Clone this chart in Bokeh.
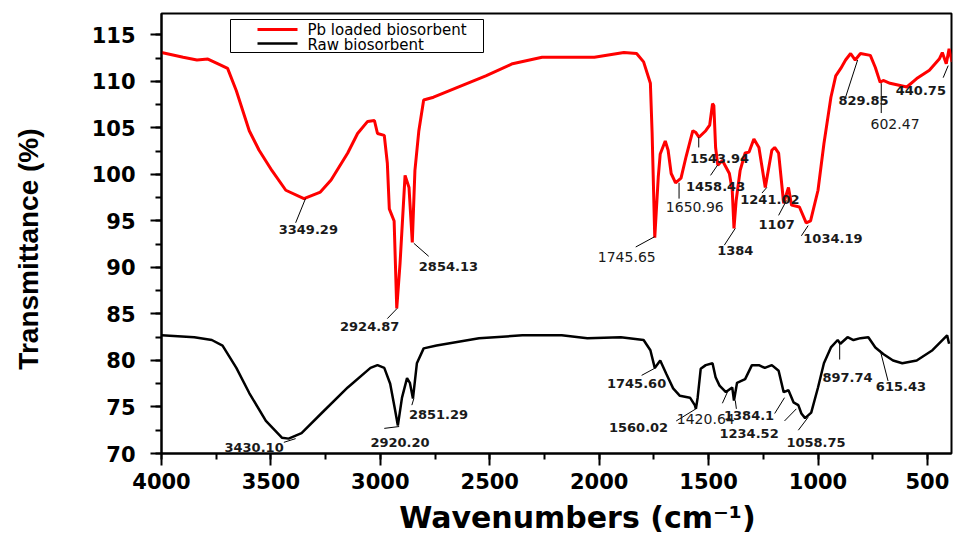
import math
from bokeh.plotting import figure
from bokeh.models import Range1d, SingleIntervalTicker, ColumnDataSource
from bokeh.core.properties import value
from bokeh.embed import file_html
from bokeh.resources import INLINE

# ---------------- data ----------------
red_wn = [4000, 3901, 3838, 3788, 3734, 3698, 3658, 3599, 3554, 3495, 3432, 3349, 3274, 3225,
          3149, 3104, 3058, 3027, 3013, 2982, 2968, 2959, 2937, 2925, 2910, 2887, 2869, 2854,
          2842, 2824, 2802, 2757, 2622, 2518, 2396, 2261, 2022, 1887, 1829, 1797, 1766, 1758,
          1746, 1730, 1721, 1698, 1685, 1671, 1651, 1626, 1603, 1572, 1558, 1544, 1513, 1495,
          1482, 1476, 1468, 1458, 1437, 1405, 1392, 1384, 1374, 1356, 1333, 1315, 1293, 1270,
          1241, 1211, 1198, 1180, 1157, 1135, 1121, 1085, 1054, 1034, 1000, 973, 941, 919,
          896, 874, 851, 830, 806, 761, 738, 716, 702, 671, 594, 549, 491, 446, 432, 414, 401, 387]
red_t = [113.1, 112.6, 112.3, 112.4, 111.8, 111.4, 109.0, 104.7, 102.6, 100.4, 98.3, 97.4, 98.1, 99.4,
         102.3, 104.4, 105.7, 105.8, 104.4, 104.2, 101.2, 96.3, 95.0, 85.6, 90.4, 99.9, 98.6, 92.7,
         100.4, 104.7, 108.0, 108.3, 109.6, 110.6, 111.9, 112.6, 112.6, 113.1, 113.0, 112.1, 109.8, 104.4,
         93.2, 99.7, 102.2, 103.6, 102.6, 100.1, 99.1, 99.6, 101.9, 104.7, 104.5, 104.0, 104.7, 105.3,
         107.6, 107.4, 102.9, 101.0, 101.5, 100.1, 98.3, 94.2, 97.2, 100.4, 102.3, 102.4, 103.8, 102.9,
         98.6, 102.6, 102.9, 102.3, 96.9, 98.6, 96.7, 96.5, 94.8, 95.0, 98.3, 103.3, 108.3, 110.6,
         111.4, 112.3, 113.0, 112.3, 113.0, 112.8, 111.5, 109.9, 110.1, 109.8, 109.4, 110.3, 111.2, 112.4,
         113.1, 111.9, 113.5, 112.1]

raw_wn = [4000, 3850, 3770, 3721, 3658, 3599, 3523, 3450, 3419, 3360, 3270, 3149, 3045, 3013, 2982,
          2955, 2932, 2920, 2901, 2878, 2865, 2851, 2833, 2802, 2743, 2549, 2351, 2171, 2054, 1901,
          1797, 1766, 1746, 1721, 1694, 1662, 1631, 1585, 1563, 1558, 1550, 1536, 1513, 1482, 1468,
          1450, 1421, 1392, 1384, 1370, 1333, 1302, 1270, 1243, 1211, 1180, 1157, 1135, 1112, 1090,
          1076, 1059, 1031, 1000, 973, 941, 910, 898, 865, 838, 806, 770, 738, 702, 657, 615, 549,
          477, 410, 401]
raw_t = [82.7, 82.5, 82.2, 81.6, 79.2, 76.5, 73.5, 71.7, 71.6, 72.2, 74.3, 77.1, 79.2, 79.5, 79.2,
         77.5, 74.6, 73.0, 76.0, 78.1, 77.6, 75.9, 79.7, 81.3, 81.6, 82.4, 82.7, 82.7, 82.4, 82.5,
         82.2, 81.1, 79.2, 80.0, 78.6, 77.0, 76.2, 76.0, 75.2, 74.8, 76.0, 79.1, 79.5, 79.7, 78.2,
         77.3, 76.6, 77.1, 75.7, 77.6, 78.0, 79.5, 79.5, 79.2, 79.5, 78.9, 76.6, 76.8, 75.5, 75.2,
         74.3, 73.8, 74.4, 77.1, 79.7, 81.4, 82.2, 81.8, 82.5, 82.2, 82.4, 82.5, 81.4, 80.7, 80.0, 79.7, 80.0,
         81.1, 82.7, 81.8]

series_names = ["Pb loaded biosorbent", "Raw biosorbent"]
x_title = "Wavenumbers (cm\u207b\u00b9)"
y_title = "Transmittance (%)"

# peak labels
peak_text = ["3349.29", "2924.87", "2854.13", "1745.65", "1650.96", "1543.94", "1458.43", "1384",
             "1241.02", "1107", "1034.19", "829.85", "602.47", "440.75",
             "3430.10", "2920.20", "2851.29", "1745.60", "1560.02", "1420.64", "1384.1", "1234.52",
             "1058.75", "897.74", "615.43"]
peak_bold = [True, True, True, False, False, True, True, True,
             True, True, True, True, False, True,
             True, True, True, True, True, False, True, True,
             True, True, True]
# label placement (data units)
lab_x = [3329, 3049, 2689, 1874, 1563, 1450, 1468, 1378, 1220, 1189, 932, 792, 648, 530,
         3577, 2910, 2734, 1829, 1820, 1513, 1315, 1315, 1009, 865, 621]
lab_y = [94.1, 83.7, 90.1, 91.1, 96.5, 101.7, 98.7, 91.8, 97.3, 94.6, 93.1, 108.0, 105.4, 109.0,
         70.6, 71.2, 74.2, 77.5, 72.8, 73.7, 74.1, 72.2, 71.2, 78.2, 77.2]
lead_x0 = [3342, 2923, 2847, 1747, 1635, 1545, 1459, 1378, 1234, 1144, 1045, 819, 711, 405,
           3387, 2914, 2847, 1743, 1558, 1414, 1378, 1153, 1045, 901, 716]
lead_y0 = [97.4, 85.6, 92.6, 93.3, 99.1, 104.0, 101.0, 94.2, 98.6, 97.2, 94.5, 112.3, 109.8, 111.7,
           71.6, 72.9, 75.9, 79.2, 74.8, 76.6, 75.7, 76.0, 73.9, 81.9, 81.1]
lead_x1 = [3387, 2968, 2779, 1833, 1635, 1545, 1491, 1428, 1256, 1180, 1076, 874, 711, 428,
           3441, 2982, 2856, 1806, 1648, 1437, 1373, 1198, 1090, 901, 680]
lead_y1 = [94.8, 84.5, 91.2, 92.2, 97.4, 102.9, 99.9, 92.4, 98.0, 95.6, 93.4, 108.3, 106.6, 110.4,
           71.2, 72.7, 75.2, 78.4, 73.5, 75.4, 74.8, 74.3, 72.5, 80.1, 77.8]
extra_lead = [(1153, 73.5, 1099, 74.8)]

# ---------------- figure ----------------
X0, X1 = 4000, 390
Y0, Y1 = 70, 117.3
W, H = 953, 538
BL, BR, BT, BB = 161, 2, 13, 85
FW, FH = W - BL - BR, H - BT - BB
NB = "\u00a0"

p = figure(width=W, height=H, output_backend="svg", toolbar_location=None,
           x_range=Range1d(X0, X1), y_range=Range1d(Y0, Y1),
           min_border_left=BL, min_border_right=BR, min_border_top=BT, min_border_bottom=BB)
p.grid.visible = False
p.outline_line_color = "black"
p.outline_line_width = 2
p.background_fill_color = "white"
p.border_fill_color = "white"

p.xaxis.ticker = SingleIntervalTicker(interval=500, num_minor_ticks=2)
p.yaxis.ticker = SingleIntervalTicker(interval=5, num_minor_ticks=2)
for ax in (p.xaxis, p.yaxis):
    ax.axis_line_width = 2
    ax.major_tick_line_width = 2
    ax.minor_tick_line_width = 2
    ax.major_tick_in = 0
    ax.minor_tick_in = 0
    ax.minor_tick_out = 6
    ax.major_label_text_font = "DejaVu Sans"
    ax.major_label_text_font_style = "bold"
    ax.major_label_text_font_size = "21px"
    ax.major_label_text_color = "black"
    ax.axis_label_text_color = "black"
    ax.axis_label_text_font_style = "bold"
p.xaxis.major_tick_out = 12
p.yaxis.major_tick_out = 11
p.xaxis.major_label_standoff = 7
p.yaxis.major_label_standoff = 15

# titles (non-breaking padding nudges them to the reference's placement)
p.xaxis.axis_label = NB * 4 + x_title
p.xaxis.axis_label_text_font = "DejaVu Sans"
p.xaxis.axis_label_text_font_size = "30px"
p.xaxis.axis_label_standoff = 8
p.yaxis.axis_label = y_title + NB * 4
p.yaxis.axis_label_text_font = "Liberation Sans"
p.yaxis.axis_label_text_font_size = "28px"
p.yaxis.axis_label_standoff = 45

# curves
p.line(red_wn, red_t, line_color="#ff0000", line_width=3)
p.line(raw_wn, raw_t, line_color="black", line_width=2.5)

# leaders
lx0 = lead_x0 + [e[0] for e in extra_lead]
ly0 = lead_y0 + [e[1] for e in extra_lead]
lx1 = lead_x1 + [e[2] for e in extra_lead]
ly1 = lead_y1 + [e[3] for e in extra_lead]
p.segment(lx0, ly0, lx1, ly1, line_color="black", line_width=1)

bold_src = ColumnDataSource(dict(
    x=[x for x, b in zip(lab_x, peak_bold) if b],
    y=[y for y, b in zip(lab_y, peak_bold) if b],
    t=[t for t, b in zip(peak_text, peak_bold) if b]))
norm_src = ColumnDataSource(dict(
    x=[x for x, b in zip(lab_x, peak_bold) if not b],
    y=[y for y, b in zip(lab_y, peak_bold) if not b],
    t=[t for t, b in zip(peak_text, peak_bold) if not b]))
p.text(x="x", y="y", text="t", source=bold_src, text_font=value("DejaVu Sans"),
       text_font_style="bold", text_font_size="13px", text_align="center",
       text_baseline="middle", text_color="#1a1a1a")
p.text(x="x", y="y", text="t", source=norm_src, text_font=value("DejaVu Sans"),
       text_font_size="14px", text_align="center", text_baseline="middle",
       text_color="#1a1a1a")

# legend (canvas-pixel helpers)
def fx(px):
    return X0 - (px - BL) * (X0 - X1) / FW

def fy(py):
    return Y0 + ((BT + FH) - py) * (Y1 - Y0) / FH

p.quad(left=[fx(230)], right=[fx(483)], top=[fy(19)], bottom=[fy(52)],
       fill_color="white", line_color="black", line_width=1)
p.segment([fx(257)], [fy(29)], [fx(297)], [fy(29)], line_color="#ff0000", line_width=3)
p.segment([fx(257)], [fy(43)], [fx(297)], [fy(43)], line_color="black", line_width=2.5)
p.text(x=[fx(307), fx(307)], y=[fy(29), fy(44)], text=series_names,
       text_font=value("DejaVu Sans"), text_font_size="15px", text_baseline="middle",
       text_align="left", text_color="black")

open("out.html", "w").write(file_html(p, INLINE))
